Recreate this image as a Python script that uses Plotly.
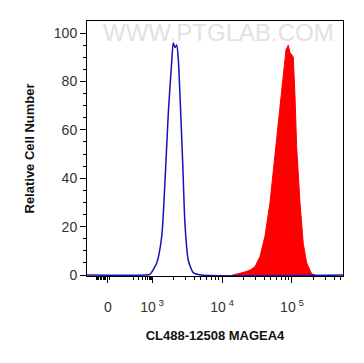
import plotly.graph_objects as go

# x positions are in display "decade" units of the biexponential axis (10^3 -> 3, 10^4 -> 4 ...)
blue_x = [2.07, 2.90, 2.97, 3.067, 3.139, 3.186, 3.233, 3.281, 3.304, 3.329, 3.353, 3.376,
          3.40, 3.439, 3.471, 3.519, 3.59, 3.70, 5.73]
blue_y = [0, 0, 0.3, 5, 16, 39, 67, 88, 96, 94, 95, 89, 74, 46, 21, 6, 1, 0, 0]

red_x = [4.15, 4.21, 4.30, 4.40, 4.471, 4.543, 4.614, 4.686, 4.757, 4.829, 4.876, 4.914, 4.947,
         4.971, 4.996, 5.019, 5.043, 5.067, 5.114, 5.161, 5.21, 5.281, 5.33]
red_y = [0, 0.3, 1.0, 2, 3.4, 7.6, 16, 30, 49, 70, 83, 93, 95, 92, 91, 90, 74, 53, 30, 13, 5, 0.5, 0]

x_tick_vals = [2.37, 3, 4, 5]
x_tick_text = ["0",
               "10<sup> 3</sup>",
               "10<sup> 4</sup>",
               "10<sup> 5</sup>"]
x_minor_vals = [2.20, 2.22, 2.24, 2.26, 2.28, 2.30, 2.32, 2.34, 2.39,
                2.73, 2.81, 2.90, 2.97, 2.975, 2.98,
                2.80, 2.86, 2.91, 2.94, 2.957, 2.967, 2.986, 2.993,
                3.301, 3.477, 3.602, 3.699, 3.778, 3.845, 3.903, 3.954,
                4.301, 4.477, 4.602, 4.699, 4.778, 4.845, 4.903, 4.954,
                5.301, 5.477, 5.602, 5.699]
y_tick_vals = [0, 20, 40, 60, 80, 100]

fig = go.Figure()
fig.add_trace(go.Scatter(x=red_x, y=red_y, mode="lines", fill="tozeroy",
                         line=dict(color="#ff0000", width=1), fillcolor="#ff0000",
                         hoverinfo="skip"))
fig.add_trace(go.Scatter(x=blue_x, y=blue_y, mode="lines", line_shape="spline",
                         line=dict(color="#1414b4", width=1.5, smoothing=0.6), hoverinfo="skip"))

fig.add_annotation(text="WWW.PTGLAB.COM", x=0.515, y=0.955, xref="paper", yref="paper",
                   xanchor="center", yanchor="middle", showarrow=False,
                   font=dict(family="Liberation Sans, Arial", size=24, color="#e2e2e2"))

fig.update_layout(
    width=364, height=363,
    margin=dict(l=79, r=29, t=13, b=95),
    plot_bgcolor="white", paper_bgcolor="white",
    showlegend=False,
    font=dict(family="Liberation Sans, Arial", color="#222"),
    xaxis=dict(range=[2.071, 5.729], showgrid=False, zeroline=False,
               showline=True, linecolor="black", linewidth=1, mirror=True,
               tickmode="array", tickvals=x_tick_vals, ticktext=x_tick_text,
               ticks="outside", ticklen=6, tickcolor="black",
               tickfont=dict(size=14, color="#333"), ticklabelstandoff=12,
               minor=dict(tickmode="array", tickvals=x_minor_vals, ticks="outside",
                          ticklen=3, tickcolor="black"),
               title=dict(text="<b>CL488-12508 MAGEA4</b>", font=dict(size=13, color="#111"),
                          standoff=17)),
    yaxis=dict(range=[-0.41, 104.96], showgrid=False, zeroline=False,
               showline=True, linecolor="black", linewidth=1, mirror=True,
               tickmode="array", tickvals=y_tick_vals,
               ticks="outside", ticklen=6, tickcolor="black",
               tickfont=dict(size=14, color="#333"),
               minor=dict(dtick=5, tick0=0, ticks="outside", ticklen=3, tickcolor="black"),
               title=dict(text="<b>Relative Cell Number</b>", font=dict(size=13, color="#111"),
                          standoff=16)),
)

fig.write_html("out.html")
